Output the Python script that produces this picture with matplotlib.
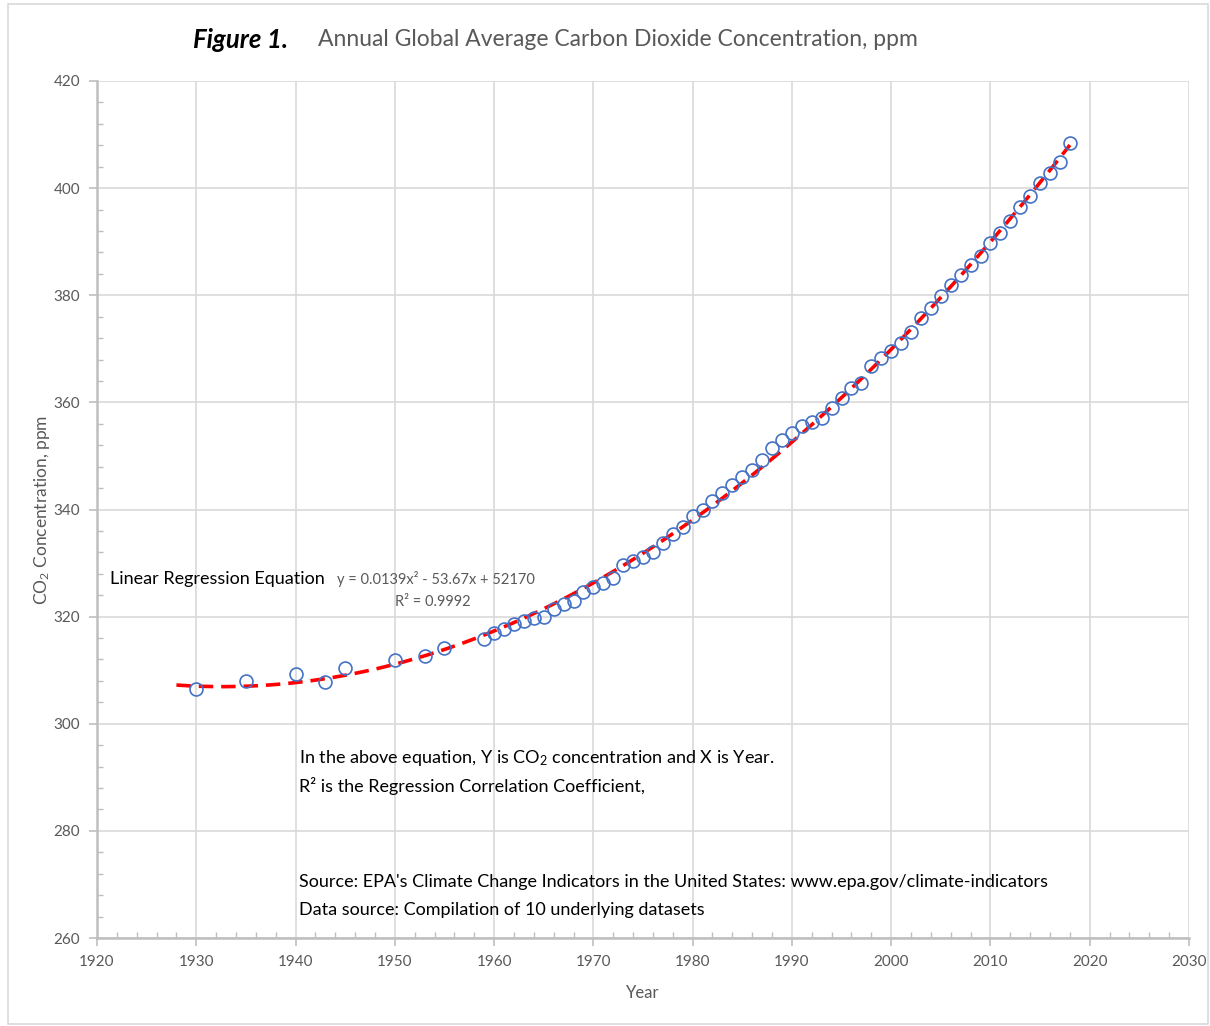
import numpy as np
import matplotlib
matplotlib.use("Agg")
import matplotlib.pyplot as plt
from matplotlib.ticker import MultipleLocator
from matplotlib.patches import Rectangle

plt.rcParams['font.family'] = ['Lato', 'DejaVu Sans']
plt.rcParams['mathtext.fontset'] = 'custom'
plt.rcParams['mathtext.rm'] = 'Lato'
plt.rcParams['mathtext.it'] = 'Lato:italic'
plt.rcParams['mathtext.bf'] = 'Lato:bold'

# ---- data ----
years = [1930, 1935, 1940, 1943, 1945, 1950, 1953, 1955,
         1959, 1960, 1961, 1962, 1963, 1964, 1965, 1966, 1967, 1968, 1969,
         1970, 1971, 1972, 1973, 1974, 1975, 1976, 1977, 1978, 1979,
         1980, 1981, 1982, 1983, 1984, 1985, 1986, 1987, 1988, 1989,
         1990, 1991, 1992, 1993, 1994, 1995, 1996, 1997, 1998, 1999,
         2000, 2001, 2002, 2003, 2004, 2005, 2006, 2007, 2008, 2009,
         2010, 2011, 2012, 2013, 2014, 2015, 2016, 2017, 2018]
co2 = [306.5, 308.0, 309.3, 307.8, 310.5, 311.9, 312.7, 314.1,
       315.9, 317.0, 317.7, 318.6, 319.1, 319.7, 320.0, 321.4, 322.3, 323.0, 324.6,
       325.6, 326.2, 327.3, 329.6, 330.3, 331.2, 332.1, 333.8, 335.4, 336.8,
       338.7, 340.0, 341.5, 343.0, 344.6, 346.0, 347.4, 349.2, 351.4, 353.0,
       354.2, 355.5, 356.4, 357.0, 358.9, 360.8, 362.6, 363.7, 366.7, 368.3,
       369.5, 371.1, 373.2, 375.7, 377.6, 379.9, 381.9, 383.8, 385.7, 387.3,
       389.8, 391.7, 393.9, 396.4, 398.5, 400.9, 402.8, 404.9, 408.5]
trend_start = 1928
trend_end = 2018

x_ticks = list(range(1920, 2031, 10))
y_ticks = list(range(260, 421, 20))

W, H = 1210, 1026
fig = plt.figure(figsize=(W / 100, H / 100), dpi=100)
ax = fig.add_axes([97 / W, 1 - 938 / H, (1189 - 97) / W, (938 - 81) / H])

# trendline (2nd-order polynomial fit)
coef = np.polyfit(years, co2, 2)
xt = np.linspace(trend_start, trend_end, 300)
ax.plot(xt, np.polyval(coef, xt), color='#FF0000', lw=2.6, ls=(0, (4.0, 2.2)), zorder=3)

ax.plot(years, co2, ls='none', marker='o', ms=9.3, mfc='none', mec='#4472C4',
        mew=1.2, zorder=4)

ax.set_xlim(1920, 2030)
ax.set_ylim(260, 420)
ax.set_xticks(x_ticks)
ax.set_yticks(y_ticks)
ax.xaxis.set_minor_locator(MultipleLocator(2))
ax.yaxis.set_minor_locator(MultipleLocator(4))
ax.grid(True, which='major', color='#D9D9D9', lw=1.2, zorder=0)
ax.set_axisbelow(True)

for s in ['top', 'right']:
    ax.spines[s].set_visible(False)
for s in ['left', 'bottom']:
    ax.spines[s].set_color('#BFBFBF')
    ax.spines[s].set_linewidth(1.8)

ax.tick_params(which='major', direction='out', length=6, width=1.2, color='#BFBFBF',
               labelsize=11, labelcolor='#595959', pad=6)
ax.tick_params(which='minor', direction='in', length=4, width=1.0, color='#BFBFBF')

ax.set_xlabel('Year', fontsize=12, color='#595959', labelpad=12)
ax.set_ylabel('CO$_\\mathrm{2}$ Concentration, ppm', fontsize=12.5, color='#595959', labelpad=1)

# figure border
fig.patches.append(Rectangle((8 / W, 2 / H), (1208 - 8) / W, (1022 - 2) / H,
                             transform=fig.transFigure, fill=False,
                             edgecolor='#D9D9D9', lw=1.2))

# title
fig.text(193 / W, 1 - 40 / H, 'Figure 1.', fontsize=18.5, fontweight='bold',
         fontstyle='italic', color='#000000', va='center', ha='left')
fig.text(318 / W, 1 - 40 / H, 'Annual Global Average Carbon Dioxide Concentration, ppm',
         fontsize=16.5, color='#595959', va='center', ha='left')

# annotations
fig.text(110 / W, 1 - 579 / H, 'Linear Regression Equation', fontsize=13,
         color='#000000', va='center', ha='left')
fig.text(337 / W, 1 - 579 / H, 'y = 0.0139x² - 53.67x + 52170', fontsize=10.5,
         color='#595959', va='center', ha='left')
fig.text(395 / W, 1 - 602 / H, 'R² = 0.9992', fontsize=10.5,
         color='#595959', va='center', ha='left')

fig.text(299 / W, 1 - 758 / H,
         'In the above equation, Y is CO$_\\mathrm{2}$ concentration and X is Year.',
         fontsize=13, color='#000000', va='center', ha='left')
fig.text(299 / W, 1 - 786 / H, 'R² is the Regression Correlation Coefficient,',
         fontsize=13, color='#000000', va='center', ha='left')
fig.text(299 / W, 1 - 882 / H,
         "Source: EPA's Climate Change Indicators in the United States: www.epa.gov/climate-indicators",
         fontsize=13, color='#000000', va='center', ha='left')
fig.text(299 / W, 1 - 910 / H, 'Data source: Compilation of 10 underlying datasets',
         fontsize=13, color='#000000', va='center', ha='left')

fig.savefig('out.png', dpi=100)
